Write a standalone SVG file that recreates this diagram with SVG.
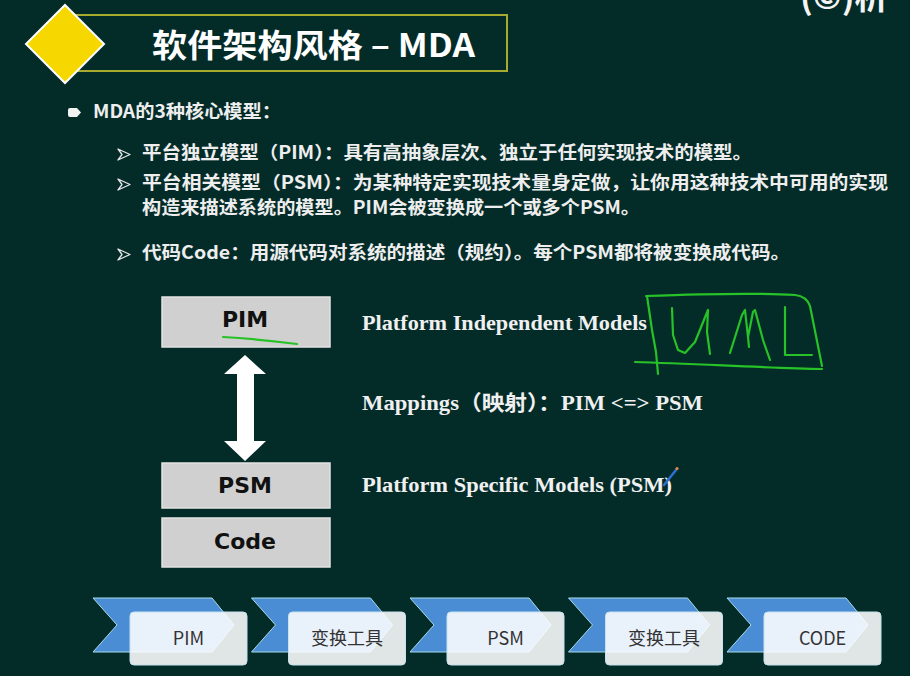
<svg xmlns="http://www.w3.org/2000/svg" width="910" height="676" viewBox="0 0 910 676">
  <defs>
    <style>
      .cjk { font-family: "Noto Sans CJK SC", "Noto Sans", sans-serif; }
      .body { font-family: "Noto Sans CJK SC", "Noto Sans", sans-serif; font-size: 18px; font-weight: bold; fill: #eeeeee; }
      .serif { font-family: "Liberation Serif", "Noto Sans CJK SC", serif; font-size: 21px; font-weight: bold; fill: #f0f0f0; }
      .layer rect { fill: #d0d0d0; stroke: #e2e2e2; stroke-width: 1.5; }
      .layer text { font-family: "DejaVu Sans", sans-serif; font-size: 22px; font-weight: bold; fill: #111; text-anchor: middle; }
      .chev { fill: #4a8dd5; stroke: #a8dbe8; stroke-width: 1; }
      .card { fill: #ffffff; fill-opacity: 0.88; stroke: #c5e2ee; stroke-width: 1; }
      .step text { font-family: "Noto Sans CJK SC", "Noto Sans", sans-serif; font-size: 18px; fill: #333; text-anchor: middle; }
      .ink { fill: none; stroke: #27c227; stroke-width: 2.2; stroke-linecap: round; stroke-linejoin: round; }
      .sub { fill: none; stroke: #e6e6e6; stroke-width: 1.3; stroke-linejoin: round; }
    </style>
  </defs>

  <!-- background -->
  <rect width="910" height="676" fill="#032c29"/>

  <!-- corner mark, cut off by the top edge -->
  <text x="800" y="9" font-family="Noto Sans CJK SC, sans-serif" font-size="34" font-weight="bold" fill="#f4f4f4">(©)析</text>

  <!-- title bar -->
  <g id="title">
    <rect x="70" y="15" width="437" height="56" fill="none" stroke="#a9ab2e" stroke-width="2"/>
    <polygon points="65,5 104,44 65,83 26,44" fill="#f7d700" stroke="#ffffff" stroke-width="2"/>
    <text x="152" y="57" class="cjk" font-size="32" font-weight="bold" fill="#ffffff" textLength="323" lengthAdjust="spacingAndGlyphs">软件架构风格 – MDA</text>
  </g>

  <!-- bullet list -->
  <g id="bullets">
    <path d="M68,110 Q68,108 70,108 L77,108 L81,112.5 L77,117 L70,117 Q68,117 68,115 Z" fill="#f2f2f2"/>
    <text x="93" y="118" class="body" textLength="188" lengthAdjust="spacingAndGlyphs">MDA的3种核心模型：</text>

    <path class="sub" d="M118,149 L130,154.5 L118,160 L122,154.5 Z"/>
    <text x="142" y="159" class="body" textLength="610" lengthAdjust="spacingAndGlyphs">平台独立模型（PIM）：具有高抽象层次、独立于任何实现技术的模型。</text>

    <path class="sub" d="M118,179 L130,184.5 L118,190 L122,184.5 Z"/>
    <text x="142" y="189" class="body" textLength="746" lengthAdjust="spacingAndGlyphs">平台相关模型（PSM）：为某种特定实现技术量身定做，让你用这种技术中可用的实现</text>
    <text x="142" y="214" class="body" textLength="498" lengthAdjust="spacingAndGlyphs">构造来描述系统的模型。PIM会被变换成一个或多个PSM。</text>

    <path class="sub" d="M118,249 L130,254.5 L118,260 L122,254.5 Z"/>
    <text x="142" y="259" class="body" textLength="648" lengthAdjust="spacingAndGlyphs">代码Code：用源代码对系统的描述（规约）。每个PSM都将被变换成代码。</text>
  </g>

  <!-- model layers -->
  <g id="pim" class="layer">
    <rect x="162" y="297" width="168" height="50"/>
    <text x="245" y="327">PIM</text>
  </g>
  <g id="psm" class="layer">
    <rect x="162" y="463" width="168" height="45"/>
    <text x="245" y="493">PSM</text>
  </g>
  <g id="code" class="layer">
    <rect x="162" y="518" width="168" height="49"/>
    <text x="245" y="549">Code</text>
  </g>

  <!-- mapping connector -->
  <g id="connectors">
    <path d="M245,355 L266,374 L254,374 L254,441 L266,441 L245,461 L224,441 L237,441 L237,374 L224,374 Z" fill="#ffffff"/>
  </g>

  <!-- layer descriptions -->
  <g id="labels">
    <text x="362" y="330" class="serif" textLength="285" lengthAdjust="spacingAndGlyphs">Platform Independent Models</text>
    <text x="362" y="410" class="serif" textLength="341" lengthAdjust="spacingAndGlyphs">Mappings（映射）：PIM &lt;=&gt; PSM</text>
    <text x="362" y="492" class="serif" textLength="310" lengthAdjust="spacingAndGlyphs">Platform Specific Models (PSM)</text>
  </g>

  <!-- pen annotations -->
  <g id="annotations">
    <path class="ink" d="M223,337 Q258,339 297,344"/>
    <path class="ink" d="M646,296 C700,294 760,293 795,295 C804,296 808,300 810,306 L822,366"/>
    <path class="ink" d="M635,362 C700,364 770,368 822,369"/>
    <path class="ink" d="M647,296 L652,330 L656,352 L658,374"/>
    <path class="ink" d="M672,308 L673,335 L678,350 L685,353 L695,342 L708,310 L707,332 L710,354"/>
    <path class="ink" d="M730,353 L742,315 L745,310 L748,337 L749,347 M748,337 L753,312 L755,310 L763,340 L770,360"/>
    <path class="ink" d="M785,307 L785,355 L812,355"/>
    <path d="M664,485 L676,470" stroke="#2f6fd2" stroke-width="2.5" stroke-linecap="round"/>
    <circle cx="677" cy="468.5" r="1.6" fill="#e08a4a"/>
  </g>

  <!-- transformation chain -->
  <g id="step-pim" class="step">
    <path class="chev" d="M93,598 H212 L234,625 L212,652 H93 L117,625 Z"/>
    <rect class="card" x="130" y="612" width="117" height="53" rx="4"/>
    <text x="188.5" y="645">PIM</text>
  </g>
  <g id="step-tool-1" class="step">
    <path class="chev" d="M251.5,598 H370.5 L392.5,625 L370.5,652 H251.5 L275.5,625 Z"/>
    <rect class="card" x="288.5" y="612" width="117" height="53" rx="4"/>
    <text x="347" y="645">变换工具</text>
  </g>
  <g id="step-psm" class="step">
    <path class="chev" d="M410,598 H529 L551,625 L529,652 H410 L434,625 Z"/>
    <rect class="card" x="447" y="612" width="117" height="53" rx="4"/>
    <text x="505.5" y="645">PSM</text>
  </g>
  <g id="step-tool-2" class="step">
    <path class="chev" d="M568.5,598 H687.5 L709.5,625 L687.5,652 H568.5 L592.5,625 Z"/>
    <rect class="card" x="605.5" y="612" width="117" height="53" rx="4"/>
    <text x="664" y="645">变换工具</text>
  </g>
  <g id="step-code" class="step">
    <path class="chev" d="M727,598 H846 L868,625 L846,652 H727 L751,625 Z"/>
    <rect class="card" x="764" y="612" width="117" height="53" rx="4"/>
    <text x="822.5" y="645">CODE</text>
  </g>
</svg>
